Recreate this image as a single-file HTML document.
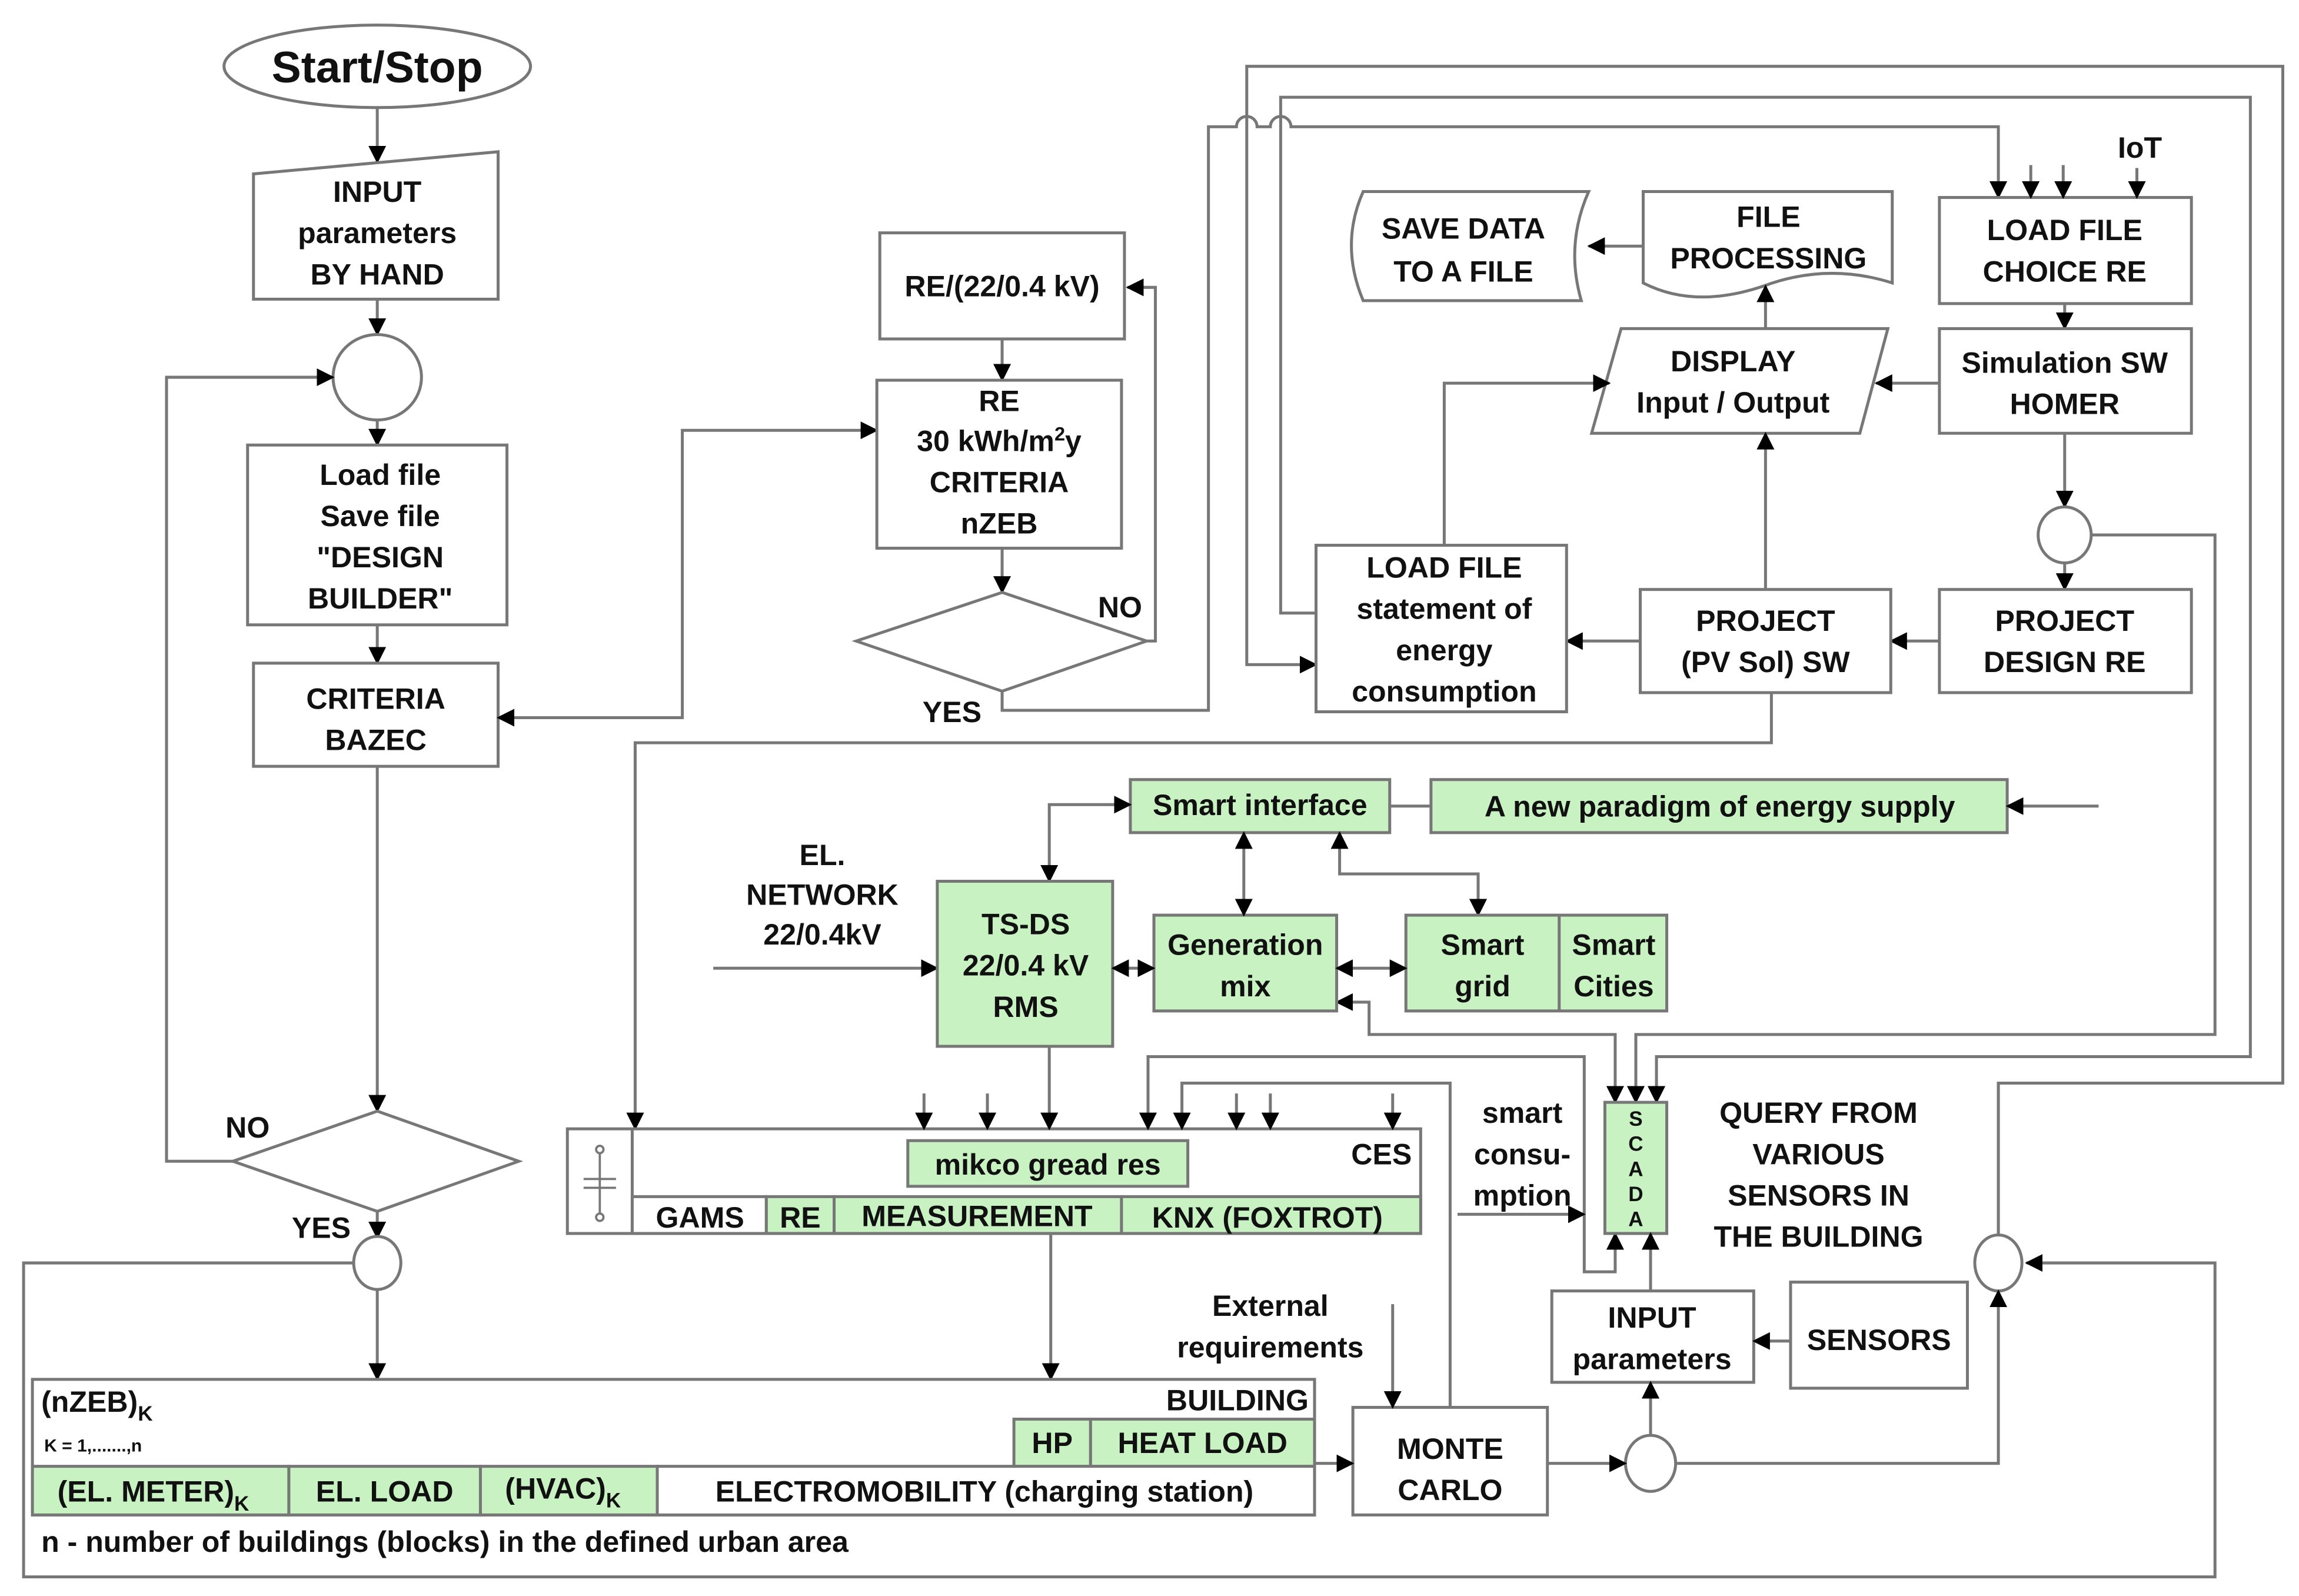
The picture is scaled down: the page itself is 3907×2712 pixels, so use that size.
<!DOCTYPE html>
<html><head><meta charset="utf-8"><style>
html,body{margin:0;padding:0;background:#fff;}
svg{display:block;}
text{font-family:"Liberation Sans Narrow","Liberation Sans",sans-serif;font-weight:bold;fill:#111;font-size:20px;}
.c{text-anchor:middle;}
.b{fill:#fff;stroke:#777;stroke-width:2;}
.g{fill:#c8f2c2;stroke:#777;stroke-width:2;}
.l{fill:none;stroke:#777;stroke-width:2;}
</style></head><body>
<svg width="3907" height="2712" viewBox="0 0 1560 1083" preserveAspectRatio="none" xmlns="http://www.w3.org/2000/svg">
<defs>
<marker id="a" markerUnits="userSpaceOnUse" markerWidth="12" markerHeight="12" refX="11" refY="6" orient="auto-start-reverse"><path d="M0,0 L12,6 L0,12 Z" fill="#000"/></marker>
</defs>
<rect width="1560" height="1083" fill="#fff"/>

<!-- LEFT COLUMN -->
<ellipse cx="256" cy="45" rx="104" ry="28" class="b"/>
<text x="256" y="56" class="c" style="font-size:30px;font-family:'Liberation Sans',sans-serif">Start/Stop</text>
<line x1="256" y1="73" x2="256" y2="110" class="l" marker-end="url(#a)"/>
<polygon points="172,118 338,103 338,203 172,203" class="b"/>
<text x="256" y="137" class="c">INPUT</text>
<text x="256" y="165" class="c">parameters</text>
<text x="256" y="193" class="c">BY HAND</text>
<line x1="256" y1="203" x2="256" y2="227" class="l" marker-end="url(#a)"/>
<ellipse cx="256" cy="256" rx="30" ry="29" class="b"/>
<line x1="256" y1="285" x2="256" y2="302" class="l" marker-end="url(#a)"/>
<rect x="168" y="302" width="176" height="122" class="b"/>
<text x="258" y="329" class="c">Load file</text>
<text x="258" y="357" class="c">Save file</text>
<text x="258" y="385" class="c">"DESIGN</text>
<text x="258" y="413" class="c">BUILDER"</text>
<line x1="256" y1="424" x2="256" y2="450" class="l" marker-end="url(#a)"/>
<rect x="172" y="450" width="166" height="70" class="b"/>
<text x="255" y="481" class="c">CRITERIA</text>
<text x="255" y="509" class="c">BAZEC</text>
<line x1="256" y1="520" x2="256" y2="754" class="l" marker-end="url(#a)"/>
<polygon points="256,754 352,788 256,822 158,788" class="b"/>
<text x="168" y="772" class="c">NO</text>
<polyline points="158,788 113,788 113,256 226,256" class="l" marker-end="url(#a)"/>
<text x="218" y="840" class="c">YES</text>
<line x1="256" y1="822" x2="256" y2="840" class="l" marker-end="url(#a)"/>
<ellipse cx="256" cy="857" rx="16" ry="18" class="b"/>
<line x1="256" y1="875" x2="256" y2="936" class="l" marker-end="url(#a)"/>
<polyline points="240,857 16,857 16,1070 1503,1070 1503,857 1375,857" class="l" marker-end="url(#a)"/>

<polyline points="338,487 463,487 463,292 595,292" class="l" marker-start="url(#a)" marker-end="url(#a)"/>

<!-- RE COLUMN -->
<rect x="597" y="158" width="166" height="72" class="b"/>
<text x="680" y="201" class="c" style="font-family:'Liberation Sans',sans-serif">RE/(22/0.4 kV)</text>
<line x1="680" y1="230" x2="680" y2="258" class="l" marker-end="url(#a)"/>
<rect x="595" y="258" width="166" height="114" class="b"/>
<g style="font-family:'Liberation Sans',sans-serif">
<text x="678" y="279" class="c" style="font-family:'Liberation Sans',sans-serif">RE</text>
<text x="678" y="306" class="c" style="font-family:'Liberation Sans',sans-serif">30 kWh/m<tspan dy="-7" style="font-size:13px">2</tspan><tspan dy="7">y</tspan></text>
<text x="678" y="334" class="c" style="font-family:'Liberation Sans',sans-serif">CRITERIA</text>
<text x="678" y="362" class="c" style="font-family:'Liberation Sans',sans-serif">nZEB</text>
</g>
<line x1="680" y1="372" x2="680" y2="402" class="l" marker-end="url(#a)"/>
<polygon points="680,402 778,435 680,469 581,435" class="b"/>
<text x="760" y="419" class="c" style="font-family:'Liberation Sans',sans-serif">NO</text>
<polyline points="778,435 784,435 784,195 765,195" class="l" marker-end="url(#a)"/>
<text x="646" y="490" class="c" style="font-family:'Liberation Sans',sans-serif">YES</text>
<path d="M680,469 V482 H820 V86 H839 a7,7 0 0 1 14,0 H862 a7,7 0 0 1 14,0 H1356 V134" class="l" marker-end="url(#a)"/>

<!-- top long lines -->
<path d="M1356,838 V735 H1549 V45 H846 V451 H893" class="l" marker-end="url(#a)"/>
<path d="M893,416 H869 V66 H1527 V717 H1124 V748" class="l" marker-end="url(#a)"/>
<path d="M1419,363 H1503 V702 H1110 V748" class="l" marker-end="url(#a)"/>
<path d="M907,680 H929 V702 H1096 V748" class="l" marker-start="url(#a)" marker-end="url(#a)"/>

<!-- TOP RIGHT -->
<path d="M925,130 H1078 Q1062,166 1073,204 H925 Q909,166 925,130 Z" class="b"/>
<text x="993" y="162" class="c">SAVE DATA</text>
<text x="993" y="191" class="c">TO A FILE</text>
<path d="M1115,130 H1284 V192 Q1240,178 1197,194 Q1150,210 1115,192 Z" class="b"/>
<text x="1200" y="154" class="c">FILE</text>
<text x="1200" y="182" class="c">PROCESSING</text>
<line x1="1115" y1="167" x2="1078" y2="167" class="l" marker-end="url(#a)"/>
<rect x="1316" y="134" width="171" height="72" class="b"/>
<text x="1401" y="163" class="c">LOAD FILE</text>
<text x="1401" y="191" class="c">CHOICE RE</text>
<text x="1452" y="107" class="c">IoT</text>
<line x1="1378" y1="112" x2="1378" y2="134" class="l" marker-end="url(#a)"/>
<line x1="1400" y1="112" x2="1400" y2="134" class="l" marker-end="url(#a)"/>
<line x1="1450" y1="114" x2="1450" y2="134" class="l" marker-end="url(#a)"/>
<line x1="1401" y1="206" x2="1401" y2="223" class="l" marker-end="url(#a)"/>
<polygon points="1100,223 1281,223 1262,294 1080,294" class="b"/>
<text x="1176" y="252" class="c">DISPLAY</text>
<text x="1176" y="280" class="c">Input / Output</text>
<rect x="1316" y="223" width="171" height="71" class="b"/>
<text x="1401" y="253" class="c">Simulation SW</text>
<text x="1401" y="281" class="c">HOMER</text>
<line x1="1316" y1="260" x2="1273" y2="260" class="l" marker-end="url(#a)"/>
<line x1="1401" y1="294" x2="1401" y2="344" class="l" marker-end="url(#a)"/>
<ellipse cx="1401" cy="363" rx="18" ry="19" class="b"/>
<line x1="1401" y1="382" x2="1401" y2="400" class="l" marker-end="url(#a)"/>
<rect x="1316" y="400" width="171" height="70" class="b"/>
<text x="1401" y="428" class="c">PROJECT</text>
<text x="1401" y="456" class="c">DESIGN RE</text>
<line x1="1316" y1="435" x2="1283" y2="435" class="l" marker-end="url(#a)"/>
<rect x="1113" y="400" width="170" height="70" class="b"/>
<text x="1198" y="428" class="c">PROJECT</text>
<text x="1198" y="456" class="c">(PV Sol) SW</text>
<line x1="1113" y1="435" x2="1063" y2="435" class="l" marker-end="url(#a)"/>
<line x1="1198" y1="400" x2="1198" y2="294" class="l" marker-end="url(#a)"/>
<line x1="1198" y1="223" x2="1198" y2="194" class="l" marker-end="url(#a)"/>
<rect x="893" y="370" width="170" height="113" class="b"/>
<text x="980" y="392" class="c">LOAD FILE</text>
<text x="980" y="420" class="c">statement of</text>
<text x="980" y="448" class="c">energy</text>
<text x="980" y="476" class="c">consumption</text>
<polyline points="980,370 980,260 1092,260" class="l" marker-end="url(#a)"/>

<!-- MIDDLE -->
<polyline points="1202,470 1202,504 431,504 431,766" class="l" marker-end="url(#a)"/>
<rect x="767" y="529" width="176" height="36" class="g"/>
<text x="855" y="553" class="c">Smart interface</text>
<line x1="943" y1="547" x2="971" y2="547" class="l"/>
<rect x="971" y="529" width="391" height="36" class="g"/>
<text x="1167" y="554" class="c">A new paradigm of energy supply</text>
<line x1="1424" y1="547" x2="1362" y2="547" class="l" marker-end="url(#a)"/>
<polyline points="712,598 712,546 767,546" class="l" marker-start="url(#a)" marker-end="url(#a)"/>
<text x="558" y="587" class="c">EL.</text>
<text x="558" y="614" class="c">NETWORK</text>
<text x="558" y="641" class="c">22/0.4kV</text>
<line x1="484" y1="657" x2="636" y2="657" class="l" marker-end="url(#a)"/>
<rect x="636" y="598" width="119" height="112" class="g"/>
<text x="696" y="634" class="c">TS-DS</text>
<text x="696" y="662" class="c">22/0.4 kV</text>
<text x="696" y="690" class="c">RMS</text>
<rect x="783" y="621" width="124" height="65" class="g"/>
<text x="845" y="648" class="c">Generation</text>
<text x="845" y="676" class="c">mix</text>
<line x1="755" y1="657" x2="783" y2="657" class="l" marker-start="url(#a)" marker-end="url(#a)"/>
<line x1="844" y1="565" x2="844" y2="621" class="l" marker-start="url(#a)" marker-end="url(#a)"/>
<polyline points="909,565 909,593 1003,593 1003,621" class="l" marker-start="url(#a)" marker-end="url(#a)"/>
<rect x="954" y="621" width="177" height="65" class="g"/>
<line x1="1058" y1="621" x2="1058" y2="686" class="l"/>
<text x="1006" y="648" class="c">Smart</text>
<text x="1006" y="676" class="c">grid</text>
<text x="1095" y="648" class="c">Smart</text>
<text x="1095" y="676" class="c">Cities</text>
<line x1="907" y1="657" x2="954" y2="657" class="l" marker-start="url(#a)" marker-end="url(#a)"/>

<!-- CES -->
<rect x="385" y="766" width="579" height="71" class="b"/>
<line x1="429" y1="766" x2="429" y2="837" class="l"/>
<rect x="429" y="812" width="91" height="25" class="b"/>
<rect x="520" y="812" width="46" height="25" class="g"/>
<rect x="566" y="812" width="195" height="25" class="g"/>
<rect x="761" y="812" width="203" height="25" class="g"/>
<text x="475" y="833" class="c">GAMS</text>
<text x="543" y="833" class="c">RE</text>
<text x="663" y="832" class="c">MEASUREMENT</text>
<text x="860" y="833" class="c">KNX (FOXTROT)</text>
<rect x="616" y="774" width="190" height="31" class="g"/>
<text x="711" y="797" class="c">mikco gread res</text>
<text x="958" y="790" style="text-anchor:end">CES</text>
<g stroke="#777" stroke-width="1.5" fill="#fff">
<line x1="407" y1="780" x2="407" y2="826"/>
<line x1="396" y1="800" x2="418" y2="800"/>
<line x1="396" y1="806" x2="418" y2="806"/>
<circle cx="407" cy="780" r="2.5"/>
<circle cx="407" cy="826" r="2.5"/>
</g>
<line x1="627" y1="742" x2="627" y2="766" class="l" marker-end="url(#a)"/>
<line x1="670" y1="742" x2="670" y2="766" class="l" marker-end="url(#a)"/>
<line x1="712" y1="710" x2="712" y2="766" class="l" marker-end="url(#a)"/>
<line x1="839" y1="742" x2="839" y2="766" class="l" marker-end="url(#a)"/>
<line x1="862" y1="742" x2="862" y2="766" class="l" marker-end="url(#a)"/>
<line x1="945" y1="742" x2="945" y2="766" class="l" marker-end="url(#a)"/>
<path d="M1096,837 V863 H1075 V717 H779 V766" class="l" marker-start="url(#a)" marker-end="url(#a)"/>
<path d="M984,955 V735 H802 V766" class="l" marker-end="url(#a)"/>
<line x1="713" y1="837" x2="713" y2="936" class="l" marker-end="url(#a)"/>

<!-- SCADA -->
<rect x="1089" y="748" width="42" height="89" class="g"/>
<g style="font-family:'Liberation Sans',sans-serif;font-size:14px">
<text x="1110" y="764" class="c" style="font-size:14px;font-family:'Liberation Sans',sans-serif">S</text>
<text x="1110" y="781" class="c" style="font-size:14px;font-family:'Liberation Sans',sans-serif">C</text>
<text x="1110" y="798" class="c" style="font-size:14px;font-family:'Liberation Sans',sans-serif">A</text>
<text x="1110" y="815" class="c" style="font-size:14px;font-family:'Liberation Sans',sans-serif">D</text>
<text x="1110" y="832" class="c" style="font-size:14px;font-family:'Liberation Sans',sans-serif">A</text>
</g>
<text x="1033" y="762" class="c">smart</text>
<text x="1033" y="790" class="c">consu-</text>
<text x="1033" y="818" class="c">mption</text>
<line x1="989" y1="824" x2="1075" y2="824" class="l" marker-end="url(#a)"/>
<text x="1234" y="762" class="c">QUERY FROM</text>
<text x="1234" y="790" class="c">VARIOUS</text>
<text x="1234" y="818" class="c">SENSORS IN</text>
<text x="1234" y="846" class="c">THE BUILDING</text>
<path d="M1356,838 V735" class="l"/>
<ellipse cx="1356" cy="857" rx="16" ry="19" class="b"/>
<rect x="1053" y="876" width="137" height="62" class="b"/>
<text x="1121" y="901" class="c">INPUT</text>
<text x="1121" y="929" class="c">parameters</text>
<line x1="1120" y1="876" x2="1120" y2="837" class="l" marker-end="url(#a)"/>
<rect x="1215" y="870" width="120" height="72" class="b"/>
<text x="1275" y="916" class="c">SENSORS</text>
<line x1="1215" y1="910" x2="1190" y2="910" class="l" marker-end="url(#a)"/>
<ellipse cx="1120" cy="993" rx="17" ry="19" class="b"/>
<line x1="1120" y1="974" x2="1120" y2="938" class="l" marker-end="url(#a)"/>
<line x1="1050" y1="993" x2="1103" y2="993" class="l" marker-end="url(#a)"/>
<polyline points="1137,993 1356,993 1356,876" class="l" marker-end="url(#a)"/>
<rect x="918" y="955" width="132" height="73" class="b"/>
<text x="984" y="990" class="c">MONTE</text>
<text x="984" y="1018" class="c">CARLO</text>
<text x="862" y="893" class="c">External</text>
<text x="862" y="921" class="c">requirements</text>
<line x1="945" y1="885" x2="945" y2="955" class="l" marker-end="url(#a)"/>
<line x1="892" y1="993" x2="918" y2="993" class="l" marker-end="url(#a)"/>

<!-- BUILDING -->
<rect x="22" y="936" width="870" height="92" class="b"/>
<rect x="688" y="963" width="52" height="32" class="g"/>
<rect x="740" y="963" width="152" height="32" class="g"/>
<text x="714" y="986" class="c">HP</text>
<text x="816" y="986" class="c">HEAT LOAD</text>
<text x="888" y="957" style="text-anchor:end">BUILDING</text>
<text x="28" y="958">(nZEB)<tspan dy="6" style="font-size:14px">K</tspan></text>
<text x="30" y="985" style="font-size:12px">K = 1,.......,n</text>
<rect x="22" y="995" width="174" height="33" class="g"/>
<rect x="196" y="995" width="130" height="33" class="g"/>
<rect x="326" y="995" width="120" height="33" class="g"/>
<rect x="446" y="995" width="446" height="33" class="b"/>
<text x="104" y="1019" class="c">(EL. METER)<tspan dy="6" style="font-size:14px">K</tspan></text>
<text x="261" y="1019" class="c">EL. LOAD</text>
<text x="382" y="1017" class="c">(HVAC)<tspan dy="6" style="font-size:14px">K</tspan></text>
<text x="668" y="1019" class="c">ELECTROMOBILITY (charging station)</text>
<text x="28" y="1053">n - number of buildings (blocks) in the defined urban area</text>
</svg>
</body></html>
